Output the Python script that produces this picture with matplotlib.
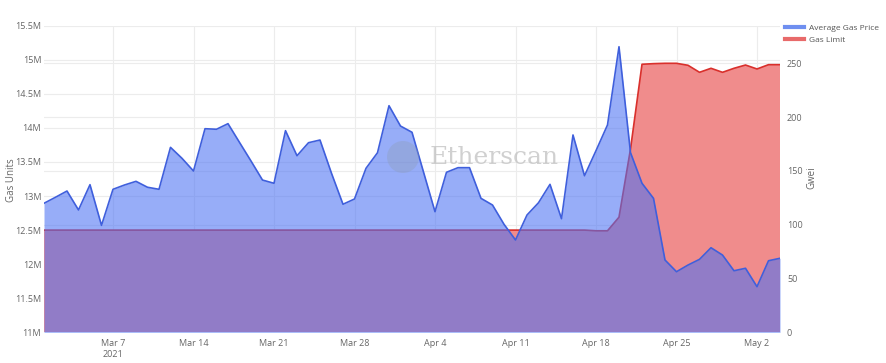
import matplotlib
matplotlib.use("Agg")
import matplotlib.pyplot as plt
from matplotlib.lines import Line2D
from matplotlib.patches import Ellipse
import pandas as pd
import numpy as np

plt.rcParams['font.family'] = ['Open Sans', 'DejaVu Sans']

dates = pd.date_range("2021-03-01", "2021-05-04", freq="D")

avg_gas_price = [
    119.9, 125.5, 131.3, 113.7, 137.2, 99.4, 132.9, 136.9, 140.3, 134.8,
    132.9, 171.9, 161.7, 149.9, 189.2, 188.7, 193.9, 176.5, 159.2, 141.5,
    138.5, 187.4, 164.1, 176.2, 178.7, 147.8, 119.0, 123.9, 152.4, 166.9,
    210.6,
    191.7, 185.9, 149.0, 112.1, 148.7, 153.0, 153.0, 124.5, 118.3, 100.4,
    85.8, 109.0, 120.4, 137.5, 105.6, 183.4, 145.5, 168.8, 192.7, 265.4,
    167.0, 138.5, 124.5, 67.2, 56.3, 62.5, 67.8, 78.6, 71.8, 57.2,
    59.5, 42.4, 66.5, 68.8,
]

gas_limit_m = [
    12.50, 12.50, 12.50, 12.50, 12.50, 12.50, 12.50, 12.50, 12.50, 12.50,
    12.50, 12.50, 12.50, 12.50, 12.50, 12.50, 12.50, 12.50, 12.50, 12.50,
    12.50, 12.50, 12.50, 12.50, 12.50, 12.50, 12.50, 12.50, 12.50, 12.50,
    12.50,
    12.50, 12.50, 12.50, 12.50, 12.50, 12.50, 12.50, 12.50, 12.50, 12.50,
    12.50, 12.50, 12.50, 12.50, 12.50, 12.50, 12.50, 12.49, 12.49, 12.69,
    13.69, 14.934, 14.943, 14.948, 14.948, 14.919, 14.816, 14.875, 14.816, 14.875,
    14.923, 14.865, 14.928, 14.928,
]

left_ticks = [11, 11.5, 12, 12.5, 13, 13.5, 14, 14.5, 15, 15.5]
left_tick_labels = ["11M", "11.5M", "12M", "12.5M", "13M", "13.5M", "14M", "14.5M", "15M", "15.5M"]
right_ticks = [0, 50, 100, 150, 200, 250]
x_tick_dates = ["2021-03-07", "2021-03-14", "2021-03-21", "2021-03-28", "2021-04-04",
                "2021-04-11", "2021-04-18", "2021-04-25", "2021-05-02"]
x_tick_labels = ["Mar 7\n2021", "Mar 14", "Mar 21", "Mar 28", "Apr 4",
                 "Apr 11", "Apr 18", "Apr 25", "May 2"]

W, H = 886, 363
fig = plt.figure(figsize=(W / 100, H / 100), dpi=100)
ax = fig.add_axes([44 / W, 1 - 332.3 / H, (780 - 44) / W, (332.3 - 25.7) / H])
ax2 = ax.twinx()

tick_color = "#666666"
grid_color = "#ececec"

red_fill = "#f08c8c"
red_line = "#d9302c"
blue_fill = (76 / 255, 114 / 255, 243 / 255, 0.58)
blue_line = "#3f5fdc"

L0, L1 = 11e6, 15.5e6
R0, R1 = 0, (332.3 - 25.7) / 1.076

# grid for right axis drawn on the bottom axes so it stays behind fills
for t in right_ticks:
    ax.axhline(L0 + (t - R0) / (R1 - R0) * (L1 - L0), color=grid_color, lw=0.8, zorder=0)

gl = np.array(gas_limit_m) * 1e6
ax.fill_between(dates, gl, 0, color=red_fill, lw=0, zorder=2)
ax.plot(dates, gl, color=red_line, lw=1.2, zorder=3)

ax2.fill_between(dates, avg_gas_price, 0, color=blue_fill, lw=0, zorder=2)
ax2.plot(dates, avg_gas_price, color=blue_line, lw=1.2, zorder=3)

ax.set_ylim(L0, L1)
ax2.set_ylim(R0, R1)
ax.set_xlim(dates[0], dates[-1])

ax.set_yticks([v * 1e6 for v in left_ticks])
ax.set_yticklabels(left_tick_labels)
ax2.set_yticks(right_ticks)
ax.set_xticks(pd.to_datetime(x_tick_dates))
ax.set_xticklabels(x_tick_labels)

for a in (ax, ax2):
    a.tick_params(axis='both', length=0, labelsize=6.5, colors=tick_color, pad=5)
    for s in a.spines.values():
        s.set_visible(False)
ax.tick_params(axis='y', pad=2)

ax.set_axisbelow(True)
ax.grid(True, color=grid_color, lw=0.8, zorder=0)
ax2.grid(False)

fig.text(12 / W, 1 - 180 / H, "Gas Units", rotation=90, fontsize=7, color=tick_color,
         ha="center", va="center")
fig.text(812 / W, 1 - 178 / H, "Gwei", rotation=90, fontsize=7, color=tick_color,
         ha="center", va="center")

# watermark
fig.patches.append(Ellipse((403 / W, 1 - 157 / H), 32 / W, 32 / H, transform=fig.transFigure,
                           facecolor="#8d9cb6", alpha=0.35, edgecolor="none", zorder=10))
fig.text(430 / W, 1 - 157 / H, "Etherscan", family="DejaVu Serif", fontsize=18,
         color="#bdbdbd", alpha=0.7, va="center", ha="left", zorder=10)

handles = [Line2D([0], [0], color="#6f8ff0", lw=3),
           Line2D([0], [0], color="#e86a6a", lw=3)]
fig.legend(handles, ["Average Gas Price", "Gas Limit"], loc="upper left",
           bbox_to_anchor=(785 / W, 1 - 24 / H), frameon=False, fontsize=6,
           handlelength=2.3, handletextpad=0.6, labelspacing=0.55, labelcolor="#555555",
           borderaxespad=0, borderpad=0.0)

fig.savefig("out.png", dpi=100, facecolor="white")
